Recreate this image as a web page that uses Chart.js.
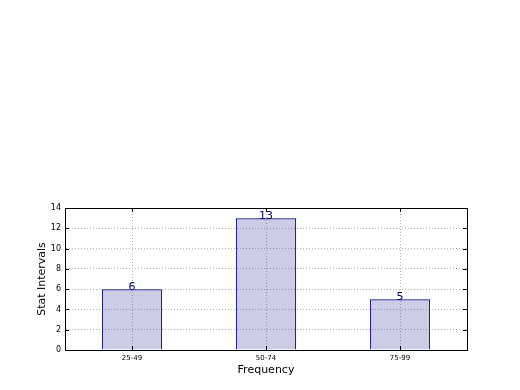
<!DOCTYPE html>
<html>
<head>
<meta charset="UTF-8">
<title>Stat Intervals</title>
<style>
  body { margin: 0; background: #fff; }
</style>
</head>
<body>
<canvas id="myChart" width="520" height="390"></canvas>
<script src="https://cdn.jsdelivr.net/npm/chart.js"></script>
<script>
    // datos
    const categories = ['25-49', '50-74', '75-99'];
    const counts = [6, 13, 5];
    const yTicks = [0, 2, 4, 6, 8, 10, 12, 14];

    const navy = '#000080';

    // marco completo + ticks hacia adentro + etiquetas de valor
    const extras = {
        id: 'extras',
        afterDatasetsDraw(chart) {
            const ctx = chart.ctx;
            const a = chart.chartArea;
            const xs = chart.scales.x, ys = chart.scales.y;
            ctx.save();
            ctx.strokeStyle = '#000';
            ctx.lineWidth = 1;
            ctx.setLineDash([]);
            ctx.beginPath();
            yTicks.forEach(v => {
                const y = Math.round(ys.getPixelForValue(v)) + 0.5;
                ctx.moveTo(a.left, y); ctx.lineTo(a.left + 4, y);
                ctx.moveTo(a.right, y); ctx.lineTo(a.right - 4, y);
            });
            categories.forEach((c, i) => {
                const x = Math.round(xs.getPixelForValue(i)) + 0.5;
                ctx.moveTo(x, a.bottom); ctx.lineTo(x, a.bottom - 4);
                ctx.moveTo(x, a.top); ctx.lineTo(x, a.top + 4);
            });
            ctx.stroke();
            ctx.strokeRect(Math.round(a.left) + 0.5, Math.round(a.top) + 0.5,
                Math.round(a.right - a.left), Math.round(a.bottom - a.top));

            ctx.fillStyle = navy;
            ctx.font = '11px "DejaVu Sans"';
            ctx.textAlign = 'center';
            ctx.textBaseline = 'bottom';
            chart.getDatasetMeta(0).data.forEach((bar, i) => {
                ctx.fillText(String(counts[i]), bar.x, bar.y + 3);
            });
            ctx.restore();
        }
    };

    const ctx = document.getElementById('myChart').getContext('2d');
    new Chart(ctx, {
        type: 'bar',
        data: {
            labels: categories,
            datasets: [{
                data: counts,
                backgroundColor: 'rgba(0,0,128,0.2)',
                borderColor: navy,
                borderWidth: 1,
                barPercentage: 0.45,
                categoryPercentage: 1.0
            }]
        },
        options: {
            responsive: false,
            animation: false,
            layout: { padding: { top: 208, right: 53, left: 36, bottom: 13 } },
            plugins: {
                legend: { display: false },
                tooltip: { enabled: false }
            },
            scales: {
                x: {
                    grid: {
                        offset: false,
                        color: '#b0b0b0',
                        drawTicks: false
                    },
                    border: { color: '#000', dash: [1, 2] },
                    ticks: {
                        color: '#000',
                        font: { family: 'DejaVu Sans', size: 7 },
                        padding: 4
                    },
                    title: {
                        display: true,
                        text: 'Frequency',
                        color: '#000',
                        font: { family: 'DejaVu Sans', size: 11 },
                        padding: { top: 0, bottom: 0 }
                    },
                    afterFit(scale) { scale.height = 27; }
                },
                y: {
                    min: 0,
                    max: 14,
                    grid: {
                        color: '#b0b0b0',
                        drawTicks: false
                    },
                    border: { color: '#000', dash: [1, 2] },
                    ticks: {
                        stepSize: 2,
                        color: '#000',
                        font: { family: 'DejaVu Sans', size: 8 },
                        padding: 4
                    },
                    title: {
                        display: true,
                        text: 'Stat Intervals',
                        color: '#000',
                        font: { family: 'DejaVu Sans', size: 11 },
                        padding: { top: 0, bottom: 0 }
                    },
                    afterFit(scale) { scale.width = 29; }
                }
            }
        },
        plugins: [extras]
    });
</script>
</body>
</html>
